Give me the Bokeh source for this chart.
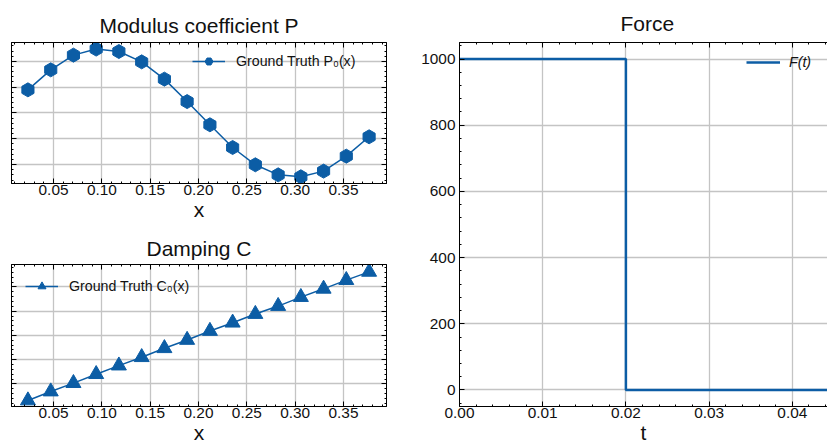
from bokeh.plotting import figure
from bokeh.models import (LinearAxis, SingleIntervalTicker, PrintfTickFormatter,
                          Range1d, Legend, LegendItem, CustomLabelingPolicy)
from bokeh.layouts import row, column
from bokeh.embed import file_html
from bokeh.resources import INLINE
import math

# ---------------- data ----------------
x_pts = [0.0235, 0.0471, 0.0706, 0.0941, 0.1176, 0.1412, 0.1647, 0.1882,
         0.2118, 0.2353, 0.2588, 0.2824, 0.3059, 0.3294, 0.3529, 0.3765]
P_vals = [1.579, 1.734, 1.848, 1.895, 1.876, 1.796, 1.662, 1.488,
          1.308, 1.132, 0.998, 0.920, 0.905, 0.949, 1.065, 1.215]
C_vals = [0.313, 0.683, 1.029, 1.399, 1.753, 2.099, 2.469, 2.811,
          3.181, 3.523, 3.881, 4.210, 4.580, 4.922, 5.280, 5.621]
t_vals = [0.0, 0.02, 0.05]
F_vals = [1000, 0, 0]

titles = ["Modulus coefficient P", "Damping C", "Force"]
xlabels = ["x", "x", "t"]
legend_labels = ["Ground Truth P\u2080(x)", "Ground Truth C\u2080(x)", "F(t)"]

BLUE = "#0C5DA5"
GRID = "#c4c4c4"
FONT = "Liberation Sans"
TXT = "#111111"


def style_axis(ax, ticker, show_labels=True, fmt="%.2f"):
    ax.ticker = ticker
    ax.axis_line_color = "black"
    ax.axis_line_width = 1
    ax.major_tick_in = 5
    ax.major_tick_out = 0
    ax.minor_tick_in = 2
    ax.minor_tick_out = 0
    ax.major_tick_line_color = "black"
    ax.minor_tick_line_color = "black"
    ax.major_label_text_font = FONT
    ax.major_label_text_color = TXT
    ax.axis_label_text_font = FONT
    ax.axis_label_text_font_style = "normal"
    ax.axis_label_text_font_size = "21px"
    ax.axis_label_text_color = TXT
    ax.axis_label_standoff = 0
    if show_labels:
        ax.major_label_text_font_size = "15.4px"
        ax.major_label_standoff = 1
        ax.formatter = PrintfTickFormatter(format=fmt)
    else:
        ax.major_label_policy = CustomLabelingPolicy(code="return []")
        ax.major_label_text_font_size = "0px"
        ax.major_label_standoff = 0


def make_fig(width, height, xr, yr, mb, title, title_standoff, title_lh=None):
    p = figure(width=width, height=height, x_range=Range1d(*xr), y_range=Range1d(*yr),
               output_backend="svg", toolbar_location=None,
               min_border_left=mb[0], min_border_right=mb[1],
               min_border_top=mb[2], min_border_bottom=mb[3])
    p.title.text = title
    p.title.text_font = FONT
    p.title.text_font_size = "21px"
    p.title.text_font_style = "normal"
    p.title.text_color = TXT
    if title_lh is not None:
        p.title.text_line_height = title_lh
    p.title.align = "center"
    p.title.standoff = title_standoff
    p.outline_line_color = "black"
    p.outline_line_width = 1
    p.background_fill_color = "white"
    p.border_fill_color = "white"
    for g in (p.xgrid, p.ygrid):
        g.grid_line_color = GRID
        g.grid_line_width = 1.3
    return p


def add_frame_axes(p, xt, yt, xlabel, right=True, ylabels=False, xfmt="%.2f", yfmt="%d"):
    style_axis(p.xaxis[0], xt, True, xfmt)
    p.xaxis[0].axis_label = xlabel
    style_axis(p.yaxis[0], yt, ylabels, yfmt)
    p.xgrid.ticker = xt
    p.ygrid.ticker = yt
    top = LinearAxis()
    style_axis(top, xt, False)
    p.add_layout(top, "above")
    if right:
        r = LinearAxis()
        style_axis(r, yt, False)
        p.add_layout(r, "right")


def make_legend(label, renderers, loc, gw, standoff, italic=False):
    return Legend(items=[LegendItem(label=label, renderers=renderers)],
                  location=loc, padding=0, margin=0, spacing=0,
                  glyph_width=gw, glyph_height=20, label_height=20,
                  label_standoff=standoff,
                  label_text_font=FONT, label_text_font_size="14.2px",
                  label_text_font_style="italic" if italic else "normal",
                  label_text_color=TXT,
                  background_fill_alpha=0, border_line_color=None)


# ---------------- P plot ----------------
xr12 = (0.0065, 0.3945)
p1 = make_fig(408, 228, xr12, (0.853, 1.946), (11, 22, 42, 45), titles[0], 12)
xt1 = SingleIntervalTicker(interval=0.05, num_minor_ticks=5)
yt1 = SingleIntervalTicker(interval=0.2, num_minor_ticks=5)
add_frame_axes(p1, xt1, yt1, xlabels[0])
p1.xaxis[0].major_label_standoff = 2
l1 = p1.line(x_pts, P_vals, line_color=BLUE, line_width=1.5)
s1 = p1.scatter(x_pts, P_vals, marker="hex", size=14, angle=math.pi / 6,
                fill_color=BLUE, line_color=BLUE)
p1.add_layout(make_legend(legend_labels[0], [l1, s1], (181, 112), 33, 11), "center")

# ---------------- C plot ----------------
p2 = make_fig(408, 219, xr12, (0.066, 5.926), (11, 22, 36, 41), titles[1], 10,
              title_lh=0.5)
xt2 = SingleIntervalTicker(interval=0.05, num_minor_ticks=5)
yt2 = SingleIntervalTicker(interval=1, num_minor_ticks=5)
add_frame_axes(p2, xt2, yt2, xlabels[1])
l2 = p2.line(x_pts, C_vals, line_color=BLUE, line_width=1.5)
s2 = p2.scatter(x_pts, C_vals, marker="triangle", size=15,
                fill_color=BLUE, line_color=BLUE)
p2.add_layout(make_legend(legend_labels[1], [l2, s2], (14, 110), 33, 11), "center")

# ---------------- Force plot ----------------
p3 = make_fig(419, 447, (0.0, 0.04423), (-50, 1050), (51, 0, 42, 41), titles[2], 16,
              title_lh=0.5)
p3.title.align = "left"
p3.title.offset = 161
p3.outline_line_color = None
xt3 = SingleIntervalTicker(interval=0.01, num_minor_ticks=5)
yt3 = SingleIntervalTicker(interval=200, num_minor_ticks=5)
add_frame_axes(p3, xt3, yt3, xlabels[2], right=False, ylabels=True)
p3.yaxis[0].major_label_standoff = 4
l3 = p3.step(t_vals, F_vals, mode="after", line_color=BLUE, line_width=2.5)
p3.add_layout(make_legend(legend_labels[2], [l3], (287, 334), 34, 9, italic=True), "center")

layout = row(column(p1, p2), p3)

open("out.html", "w").write(file_html(layout, INLINE))
